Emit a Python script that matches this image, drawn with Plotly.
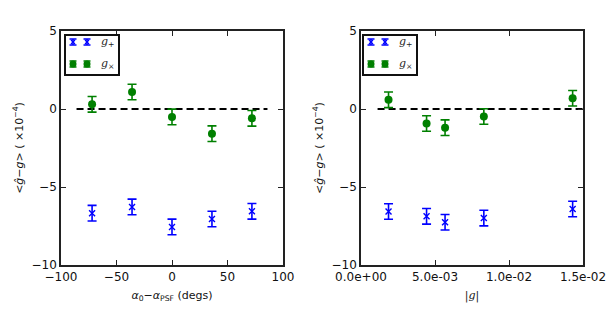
import plotly.graph_objects as go

# ---- data ----
angle_x = [-72, -36, 0, 36, 72]
angle_gplus = [-6.68, -6.28, -7.56, -7.05, -6.56]
angle_gcross = [0.30, 1.09, -0.51, -1.58, -0.60]
angle_err = [0.5, 0.5, 0.5, 0.5, 0.5]

shear_x = [0.00186, 0.00443, 0.00568, 0.0083, 0.0143]
shear_gplus = [-6.57, -6.88, -7.26, -6.99, -6.41]
shear_gcross = [0.59, -0.93, -1.20, -0.48, 0.69]
shear_err = [0.5, 0.5, 0.5, 0.5, 0.5]

zero_left_x = [-86, 86]
zero_right_x = [0.00112, 0.0152]

left_ticks = [-100, -50, 0, 50, 100]
left_ticktext = ["\u2212100", "\u221250", "0", "50", "100"]
right_ticks = [0.0, 0.005, 0.01, 0.015]
right_ticktext = ["0.0e+00", "5.0e-03", "1.0e-02", "1.5e-02"]
y_ticks = [5, 0, -5, -10]
y_ticktext = ["5", "0", "\u22125", "\u221210"]

BLUE = "#0000ff"
GREEN = "#008000"
W, H = 613, 313

fig = go.Figure()

def add_panel(xs, gp, gc, err, zx, xa, ya):
    fig.add_trace(go.Scatter(x=zx, y=[0, 0], mode="lines",
                             line=dict(color="black", width=1.8, dash="7px,4px"),
                             xaxis=xa, yaxis=ya, showlegend=False, hoverinfo="skip"))
    fig.add_trace(go.Scatter(x=xs, y=gp, mode="markers",
                             marker=dict(symbol="x-thin", size=6, color=BLUE,
                                         line=dict(color=BLUE, width=1.4)),
                             error_y=dict(type="data", array=err, color=BLUE,
                                          thickness=1.6, width=4.5),
                             xaxis=xa, yaxis=ya, showlegend=False))
    fig.add_trace(go.Scatter(x=xs, y=gc, mode="markers",
                             marker=dict(symbol="circle", size=8, color=GREEN),
                             error_y=dict(type="data", array=err, color=GREEN,
                                          thickness=1.6, width=4.5),
                             xaxis=xa, yaxis=ya, showlegend=False))

add_panel(angle_x, angle_gplus, angle_gcross, angle_err, zero_left_x, "x", "y")
add_panel(shear_x, shear_gplus, shear_gcross, shear_err, zero_right_x, "x2", "y2")

# ---- hand-drawn legends (two samples per row, like matplotlib numpoints=2) ----
leg_sample_x = [7, 21]
leg_rows = [32, 10]
leg_err = [3, 3]
for xa, ya in (("x3", "y3"), ("x4", "y4")):
    fig.add_trace(go.Scatter(x=leg_sample_x, y=[leg_rows[0]] * 2, mode="markers",
                             marker=dict(symbol="x-thin", size=4, color=BLUE,
                                         line=dict(color=BLUE, width=1.2)),
                             error_y=dict(type="data", array=leg_err, color=BLUE,
                                          thickness=1.5, width=3.5),
                             xaxis=xa, yaxis=ya, showlegend=False, hoverinfo="skip"))
    fig.add_trace(go.Scatter(x=leg_sample_x, y=[leg_rows[1]] * 2, mode="markers",
                             marker=dict(symbol="circle", size=7, color=GREEN),
                             error_y=dict(type="data", array=leg_err, color=GREEN,
                                          thickness=1.5, width=3.5),
                             xaxis=xa, yaxis=ya, showlegend=False, hoverinfo="skip"))
    fig.add_annotation(x=33, y=leg_rows[0], xref=xa, yref=ya, text="<i>g</i><sub>+</sub>",
                       showarrow=False, xanchor="left", yanchor="middle",
                       font=dict(family="DejaVu Serif", size=11, color="#222"))
    fig.add_annotation(x=33, y=leg_rows[1], xref=xa, yref=ya, text="<i>g</i><sub>\u00d7</sub>",
                       showarrow=False, xanchor="left", yanchor="middle",
                       font=dict(family="DejaVu Serif", size=11, color="#222"))

def px_x(a, b):
    return [a / W, b / W]

def px_y(top, bottom):
    return [(H - bottom) / H, (H - top) / H]

axis_common = dict(showline=True, linecolor="#222", linewidth=1.6, mirror="ticks",
                   ticks="inside", ticklen=5, tickwidth=1, tickcolor="#222",
                   showgrid=False, zeroline=False, automargin=False,
                   tickfont=dict(family="DejaVu Sans", size=12, color="#111"))

ytitle = ("&lt;<i>\u011d</i>\u2212<i>g</i>&gt; ( \u00d710<sup>\u22124</sup>)")

fig.update_layout(
    width=W, height=H, autosize=False,
    margin=dict(l=0, r=0, t=0, b=0),
    paper_bgcolor="white", plot_bgcolor="white",
    xaxis=dict(domain=px_x(61, 283), range=[-100, 100], tickvals=left_ticks,
               ticktext=left_ticktext, anchor="y",
               title=dict(text="<i>\u03b1</i><sub>0</sub>\u2212<i>\u03b1</i><sub>PSF</sub> (degs)",
                          font=dict(family="DejaVu Sans", size=11, color="#111"), standoff=8),
               **axis_common),
    yaxis=dict(domain=px_y(31, 265), range=[-10, 5], tickvals=y_ticks, ticktext=y_ticktext,
               anchor="x",
               title=dict(text=ytitle, font=dict(family="DejaVu Sans", size=11, color="#111"),
                          standoff=6),
               **axis_common),
    xaxis2=dict(domain=px_x(361, 583), range=[0, 0.015], tickvals=right_ticks,
                ticktext=right_ticktext, anchor="y2",
                title=dict(text="|<i>g</i>|", font=dict(family="DejaVu Serif", size=11, color="#111"),
                           standoff=8),
                **axis_common),
    yaxis2=dict(domain=px_y(31, 265), range=[-10, 5], tickvals=y_ticks, ticktext=y_ticktext,
                anchor="x2",
                title=dict(text=ytitle, font=dict(family="DejaVu Sans", size=11, color="#111"),
                           standoff=6),
                **axis_common),
)

leg_axis = dict(showline=True, linecolor="#111", linewidth=1.5, mirror=True, ticks="",
                showticklabels=False, showgrid=False, zeroline=False, fixedrange=True,
                automargin=False)
fig.update_layout(
    xaxis3=dict(domain=px_x(66, 118), range=[0, 52], anchor="y3", **leg_axis),
    yaxis3=dict(domain=px_y(36, 74), range=[0, 38], anchor="x3", **leg_axis),
    xaxis4=dict(domain=px_x(364, 416), range=[0, 52], anchor="y4", **leg_axis),
    yaxis4=dict(domain=px_y(36, 74), range=[0, 38], anchor="x4", **leg_axis),
)

fig.write_html("out.html", config={"displayModeBar": False},
               post_script="document.body.style.margin='0';document.body.style.overflow='hidden';")
